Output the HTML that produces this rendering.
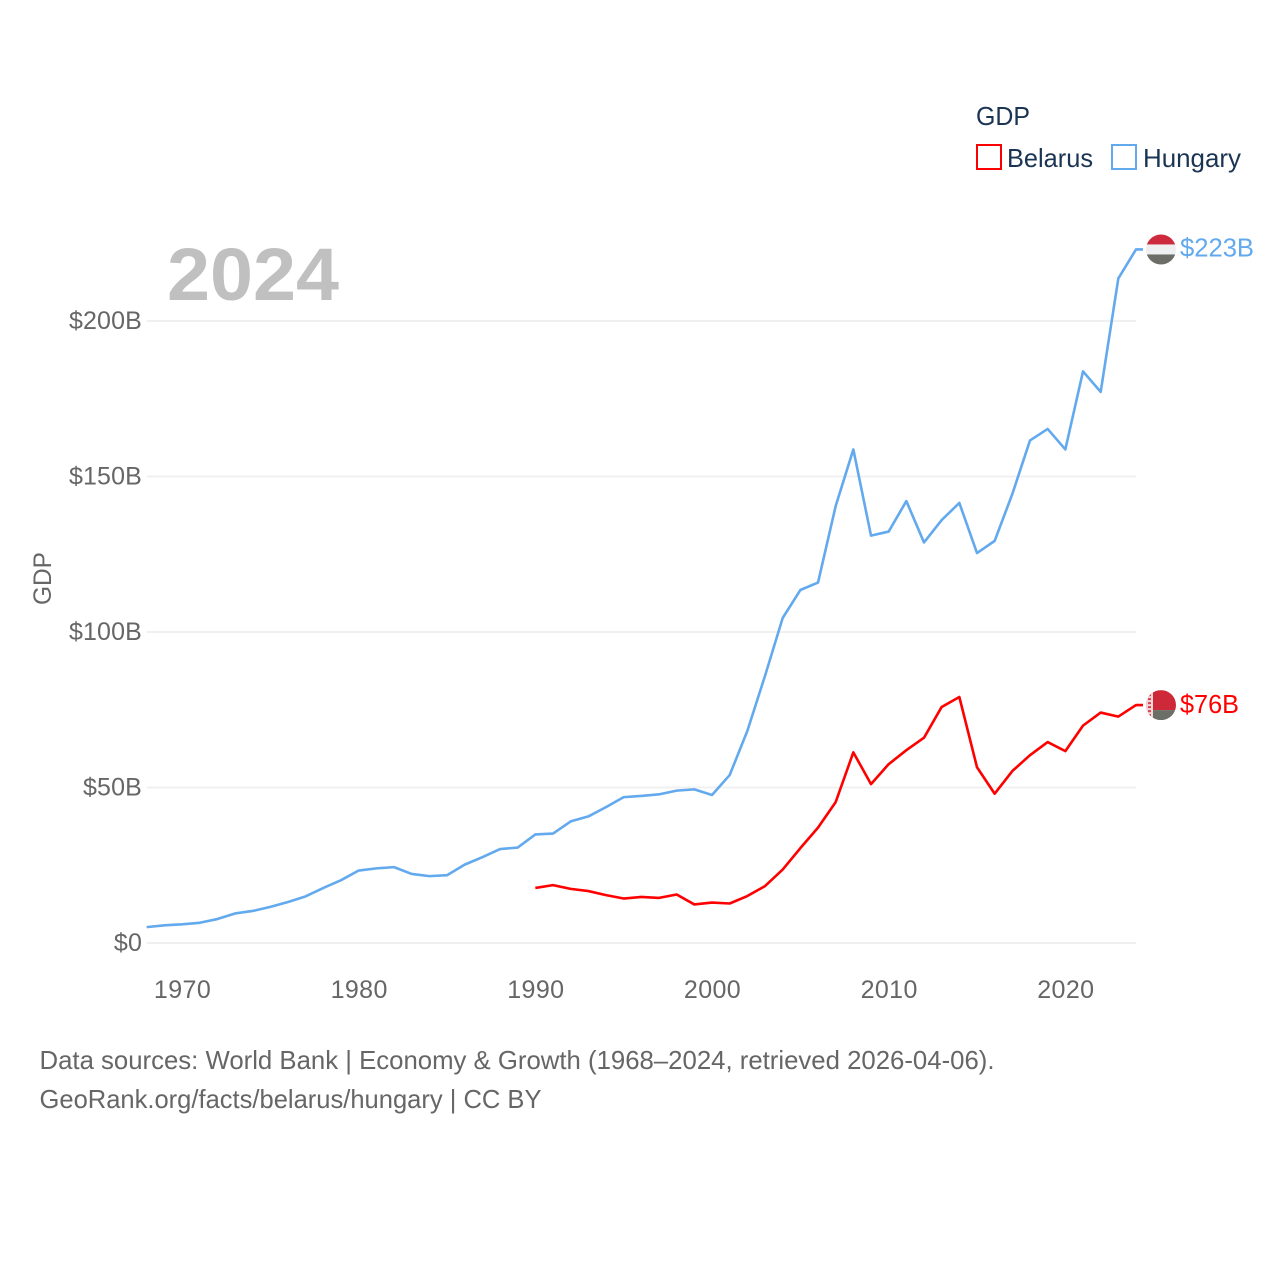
<!DOCTYPE html>
<html lang="en">
<head>
<meta charset="utf-8">
<title>GDP: Belarus and Hungary</title>
<style>
html,body{margin:0;padding:0;background:#fff;width:1280px;height:1280px;overflow:hidden}
svg{display:block}
text{font-family:"Liberation Sans",sans-serif}
</style>
</head>
<body>
<svg id="chart" xmlns="http://www.w3.org/2000/svg" width="1280" height="1280" viewBox="0 0 1280 1280">
  <defs>
    <clipPath id="hu-clip"><circle id="hu-clip-circle" cx="1161" cy="249" r="15"></circle></clipPath>
    <clipPath id="by-clip"><circle id="by-clip-circle" cx="1161" cy="705" r="15"></circle></clipPath>
  </defs>
  <g id="grid"></g>
  <g id="y-axis"></g>
  <g id="x-axis"></g>
  <text transform="translate(51,605) rotate(-90)" font-size="25" fill="#666666" textLength="53" lengthAdjust="spacingAndGlyphs">GDP</text>
  <text x="167" y="300" font-size="74" font-weight="700" fill="#c0c0c0" textLength="172" lengthAdjust="spacingAndGlyphs">2024</text>
  <g id="series"></g>
  <g id="flags"></g>
  <g>
    <text x="976" y="125" font-size="26" fill="#1a3453" textLength="54" lengthAdjust="spacingAndGlyphs">GDP</text>
    <g>
      <rect x="977" y="145" width="24" height="24" fill="#fff" stroke="#ff0000" stroke-width="2"></rect>
      <text x="1007" y="167" font-size="26" fill="#1a3453" textLength="86" lengthAdjust="spacingAndGlyphs">Belarus</text>
    </g>
    <g>
      <rect x="1112" y="145" width="24" height="24" fill="#fff" stroke="#63a9ee" stroke-width="2"></rect>
      <text x="1143" y="167" font-size="26" fill="#1a3453" textLength="98" lengthAdjust="spacingAndGlyphs">Hungary</text>
    </g>
  </g>
  <g>
    <text x="39.500" y="1069" font-size="26" fill="#666666" textLength="955" lengthAdjust="spacingAndGlyphs">Data sources: World Bank | Economy &amp; Growth (1968–2024, retrieved 2026-04-06).</text>
    <text x="39.500" y="1108" font-size="26" fill="#666666" textLength="502" lengthAdjust="spacingAndGlyphs">GeoRank.org/facts/belarus/hungary | CC BY</text>
  </g>
</svg>
<script>
var hungaryStartYear = 1968;
var belarusStartYear = 1990;
var hungaryGdp = [5.1,5.7,6.0,6.5,7.7,9.5,10.3,11.6,13.2,15.0,17.7,20.2,23.3,24.0,24.4,22.2,21.5,21.8,25.2,27.6,30.2,30.7,34.9,35.2,39.1,40.7,43.7,46.9,47.3,47.8,49.0,49.4,47.6,54.0,68.2,85.9,104.5,113.5,115.9,140.5,158.7,131.0,132.3,142.1,128.8,136.0,141.5,125.4,129.3,144.4,161.6,165.3,158.7,183.8,177.2,213.7,223.0];
var belarusGdp = [17.7,18.6,17.4,16.7,15.4,14.3,14.8,14.5,15.6,12.4,13.0,12.7,15.1,18.3,23.6,30.5,37.1,45.3,61.3,51.1,57.5,62.0,66.0,75.9,79.1,56.5,48.0,55.3,60.4,64.6,61.7,69.9,74.1,72.8,76.5];
var yTickValues = [0,50,100,150,200];
var yTickLabels = ["$0","$50B","$100B","$150B","$200B"];
var xTickYears = [1970,1980,1990,2000,2010,2020];
var hungaryEndLabel = "$223B";
var belarusEndLabel = "$76B";

var svg = document.getElementById('chart');
var NS = 'http://www.w3.org/2000/svg';
function xScale(year){ return 146.7 + (year - 1968) * (1136 - 146.7) / 56; }
function yScale(v){ return 943 - v * 3.11; }
function make(tag, parent, props){
  var el = document.createElementNS(NS, tag);
  for (var k in props) el.setAttribute(k, props[k]);
  parent.appendChild(el);
  return el;
}
var grid = document.getElementById('grid');
var yAxis = document.getElementById('y-axis');
yTickValues.forEach(function(v, i){
  var line = make('line', grid, {x1:146.7, x2:1136, y1:yScale(v), y2:yScale(v), stroke:'#f0f0f0', 'stroke-width':2});
  
  
  var t = make('text', yAxis, {x:142, y:yScale(v)+8, 'text-anchor':'end', 'font-size':25, 'letter-spacing':0.15, fill:'#666666'});
  
  
  t.textContent = yTickLabels[i];
});
var xAxis = document.getElementById('x-axis');
xTickYears.forEach(function(y){
  var t = make('text', xAxis, {x:xScale(y)+0.5, y:998, 'text-anchor':'middle', 'font-size':25, 'letter-spacing':0.4, fill:'#666666'});
  
  
  t.textContent = y;
});
function pointsFor(values, startYear){
  return values.map(function(v, i){ return xScale(startYear + i).toFixed(2) + ',' + yScale(v).toFixed(2); });
}
var seriesGroup = document.getElementById('series');
var huLast = yScale(hungaryGdp[hungaryGdp.length - 1]);
var byLast = yScale(belarusGdp[belarusGdp.length - 1]);
var huLine = make('polyline', seriesGroup, {points:pointsFor(hungaryGdp, hungaryStartYear).join(' ') + ' 1143,' + huLast.toFixed(2), fill:'none', stroke:'#63a9ee', 'stroke-width':2.6, 'stroke-linejoin':'round'});


var byLine = make('polyline', seriesGroup, {points:pointsFor(belarusGdp, belarusStartYear).join(' ') + ' 1143,' + byLast.toFixed(2), fill:'none', stroke:'#ff0000', 'stroke-width':2.6, 'stroke-linejoin':'round'});



var flags = document.getElementById('flags');
document.getElementById('hu-clip-circle').setAttribute('cy', huLast);
document.getElementById('by-clip-circle').setAttribute('cy', byLast);
var huFlag = make('g', flags, {'clip-path':'url(#hu-clip)'});


make('rect', huFlag, {x:1146, y:huLast-15, width:30, height:10, fill:'#cd2a3e'});
make('rect', huFlag, {x:1146, y:huLast-5, width:30, height:10, fill:'#eeeff1'});
make('rect', huFlag, {x:1146, y:huLast+5, width:30, height:10, fill:'#6b6d66'});
var byFlag = make('g', flags, {'clip-path':'url(#by-clip)'});


make('rect', byFlag, {x:1146, y:byLast-15, width:30, height:20, fill:'#ce2939'});
make('rect', byFlag, {x:1146, y:byLast+5, width:30, height:10, fill:'#6b6f68'});
make('rect', byFlag, {x:1146, y:byLast-15, width:7, height:30, fill:'#f3d6d8'});
make('line', byFlag, {x1:1149.5, x2:1149.5, y1:byLast-15, y2:byLast+15, stroke:'#d8414e', 'stroke-width':3, 'stroke-dasharray':'2 2'});

var huLabel = make('text', flags, {x:1180, y:huLast+7, 'font-size':26, fill:'#63a9ee', textLength:74, lengthAdjust:'spacingAndGlyphs'});


huLabel.textContent = hungaryEndLabel;
var byLabel = make('text', flags, {x:1180, y:byLast+8, 'font-size':26, fill:'#ff0000', textLength:59, lengthAdjust:'spacingAndGlyphs'});


byLabel.textContent = belarusEndLabel;
</script>
</body>
</html>
